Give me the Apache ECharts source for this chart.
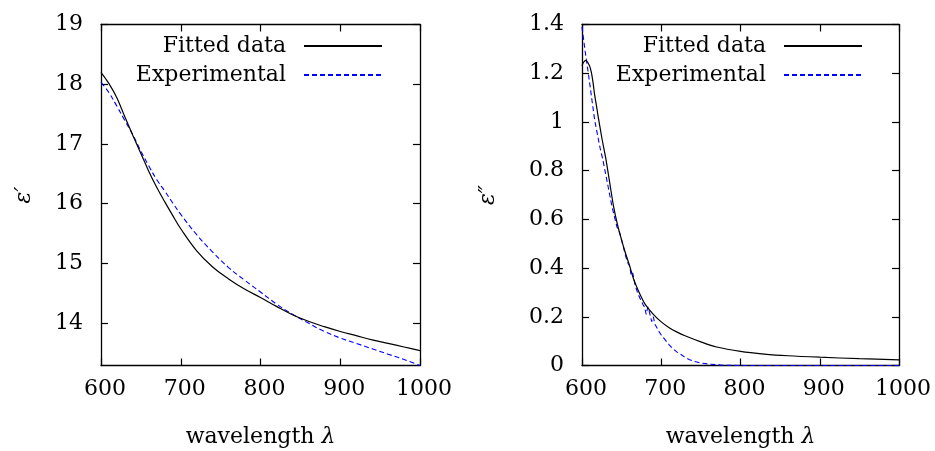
<!DOCTYPE html>
<html>
<head>
<meta charset="utf-8">
<title>Dielectric function: fit vs experiment</title>
<script src="https://cdn.jsdelivr.net/npm/echarts@6/dist/echarts.min.js"></script>
<style>
  html, body { margin: 0; padding: 0; background: #fff; }
  #chart { width: 935px; height: 451px; }
</style>
</head>
<body>
<div id="chart"></div>
<script>
// Tick values
const wavelengthTicks = [600, 700, 800, 900, 1000];
const epsRealTicks = [14, 15, 16, 17, 18, 19];
const epsImagTicks = [0, 0.2, 0.4, 0.6, 0.8, 1, 1.2, 1.4];

// Real part ε′ — fitted model
const fitRealWl  = [600, 610, 620, 630, 640, 650, 660, 670, 680, 690, 700, 720, 740, 760, 780, 800, 820, 840, 860, 880, 900, 920, 940, 960, 980, 1000];
const fitRealVal = [18.20, 18.01, 17.77, 17.45, 17.14, 16.84, 16.54, 16.27, 16.03, 15.80, 15.58, 15.21, 14.94, 14.74, 14.57, 14.43, 14.28, 14.14, 14.03, 13.94, 13.86, 13.79, 13.72, 13.66, 13.60, 13.54];

// Real part ε′ — experimental
const expRealWl  = [600, 610, 620, 630, 640, 650, 660, 670, 680, 690, 700, 720, 740, 760, 780, 800, 820, 840, 860, 880, 900, 920, 940, 960, 980, 1000];
const expRealVal = [18.03, 17.86, 17.63, 17.39, 17.15, 16.88, 16.63, 16.40, 16.21, 16.01, 15.82, 15.48, 15.19, 14.93, 14.72, 14.52, 14.32, 14.15, 14.00, 13.86, 13.75, 13.66, 13.57, 13.48, 13.39, 13.29];

// Imaginary part ε″ — fitted model
const fitImagWl  = [600, 602, 605, 608, 610, 612, 614, 616, 618.5, 620, 625, 630, 635, 640, 645, 650, 655, 660, 665, 670, 675, 680, 690, 700, 710, 720, 730, 750, 770, 800, 830, 860, 900, 950, 1000];
const fitImagVal = [1.23, 1.245, 1.253, 1.24, 1.226, 1.20, 1.16, 1.11, 1.062, 1.03, 0.935, 0.85, 0.75, 0.65, 0.575, 0.515, 0.46, 0.41, 0.356, 0.315, 0.28, 0.25, 0.21, 0.179, 0.155, 0.137, 0.122, 0.097, 0.076, 0.058, 0.047, 0.040, 0.034, 0.028, 0.023];

// Imaginary part ε″ — experimental
const expImagWl  = [600, 603.8, 608, 612, 616, 620, 623, 626, 629, 632, 635, 638, 641, 644, 648, 652, 655, 658, 660, 662, 664, 667, 670, 674, 677, 679, 681, 683, 685, 688, 690, 692, 694, 697, 700, 705, 710, 715, 720, 725, 730, 735, 740, 745, 750, 760, 770, 780, 800, 850, 900, 950, 1000];
const expImagVal = [1.39, 1.294, 1.199, 1.103, 1.007, 0.94, 0.89, 0.85, 0.80, 0.75, 0.70, 0.65, 0.61, 0.57, 0.54, 0.49, 0.45, 0.42, 0.41, 0.37, 0.38, 0.33, 0.30, 0.27, 0.25, 0.24, 0.21, 0.24, 0.22, 0.18, 0.20, 0.17, 0.17, 0.14, 0.125, 0.105, 0.085, 0.068, 0.055, 0.045, 0.033, 0.025, 0.018, 0.014, 0.010, 0.006, 0.003, 0.001, 0, 0, 0, 0, 0];

const zip = (xs, ys) => xs.map((x, i) => [x, ys[i]]);

const FONT = 'DejaVu Serif';
const INK = '#000';
const frameLine = { show: true, onZero: false, lineStyle: { color: INK, width: 1.3 } };
const innerTick = (custom) => {
  const t = { show: true, inside: true, length: 7, lineStyle: { color: INK, width: 1.2 } };
  if (custom) t.customValues = custom;
  return t;
};

function xAxisFor(grid, position, withLabels) {
  const ax = {
    gridIndex: grid, type: 'value', position: position,
    min: 600, max: 1000, interval: 100,
    axisLine: frameLine, axisTick: innerTick(), splitLine: { show: false },
    axisLabel: withLabels
      ? { show: true, fontFamily: FONT, fontSize: 22, color: INK, margin: 13, padding: [0, 0, 0, 8],
          customValues: wavelengthTicks, formatter: (v) => String(v) }
      : { show: false }
  };
  if (withLabels) {
    ax.name = 'wavelength {i|λ}';
    ax.nameLocation = 'middle';
    ax.nameGap = 61;
    ax.nameTextStyle = { fontFamily: FONT, fontSize: 22, color: INK,
      rich: { i: { fontFamily: FONT, fontSize: 22, fontStyle: 'italic', color: INK } } };
  }
  return ax;
}

function yAxisFor(grid, position, withLabels, range, name, gap) {
  const ax = {
    gridIndex: grid, type: 'value', position: position,
    min: range.min, max: range.max,
    axisLine: frameLine, splitLine: { show: false },
    axisTick: innerTick(range.ticks),
    axisLabel: withLabels
      ? { show: true, fontFamily: FONT, fontSize: 22, color: INK, margin: 18, customValues: range.ticks,
          formatter: (v) => String(v) }
      : { show: false }
  };
  if (withLabels) {
    ax.name = name;
    ax.nameLocation = 'middle';
    ax.nameGap = gap;
    ax.nameTextStyle = { fontFamily: FONT, fontSize: 22, fontStyle: 'italic', color: INK };
  }
  return ax;
}

const realRange = { min: 13.29, max: 19, ticks: epsRealTicks };
const imagRange = { min: 0, max: 1.4, ticks: epsImagTicks };

const fitStyle = { color: '#000', width: 1.2, type: 'solid' };
const expStyle = { color: '#0000ff', width: 1.1, type: [5, 3] };

// Gnuplot-style key: text right-aligned, line sample on its right, no marker
const legendFor = (rightPx) => ({
  orient: 'vertical', align: 'right', right: rightPx, top: 35, padding: 0,
  itemWidth: 78, itemHeight: 14, itemGap: 7,
  itemStyle: { opacity: 0 },
  textStyle: { fontFamily: FONT, fontSize: 22, color: INK, padding: [0, 13, 0, 0] },
  data: ['Fitted data', 'Experimental'],
  selectedMode: false
});

const option = {
  animation: false,
  backgroundColor: '#fff',
  grid: [
    { left: 101, right: 515, top: 24.5, bottom: 85.5, containLabel: false, outerBoundsMode: 'none' },
    { left: 582, right: 36, top: 24.5, bottom: 85.5, containLabel: false, outerBoundsMode: 'none' }
  ],
  legend: [legendFor(552), legendFor(72)],
  xAxis: [
    xAxisFor(0, 'bottom', true), xAxisFor(0, 'top', false),
    xAxisFor(1, 'bottom', true), xAxisFor(1, 'top', false)
  ],
  yAxis: [
    yAxisFor(0, 'left', true, realRange, 'ε′', 66), yAxisFor(0, 'right', false, realRange),
    yAxisFor(1, 'left', true, imagRange, 'ε″', 83), yAxisFor(1, 'right', false, imagRange)
  ],
  series: [
    { name: 'Fitted data', type: 'line', xAxisIndex: 0, yAxisIndex: 0, symbol: 'none', smooth: 0.4,
      itemStyle: { color: '#000' }, lineStyle: fitStyle, data: zip(fitRealWl, fitRealVal), z: 3 },
    { name: 'Experimental', type: 'line', xAxisIndex: 0, yAxisIndex: 0, symbol: 'none', smooth: 0.4,
      itemStyle: { color: '#0000ff' }, lineStyle: expStyle, data: zip(expRealWl, expRealVal), z: 2 },
    { name: 'Fitted data', type: 'line', xAxisIndex: 2, yAxisIndex: 2, symbol: 'none', smooth: 0.3,
      itemStyle: { color: '#000' }, lineStyle: fitStyle, data: zip(fitImagWl, fitImagVal), z: 3 },
    { name: 'Experimental', type: 'line', xAxisIndex: 2, yAxisIndex: 2, symbol: 'none', smooth: false,
      itemStyle: { color: '#0000ff' }, lineStyle: expStyle, data: zip(expImagWl, expImagVal), z: 2 }
  ]
};

const chart = echarts.init(document.getElementById('chart'), null, { renderer: 'canvas' });
chart.setOption(option);
</script>
</body>
</html>
